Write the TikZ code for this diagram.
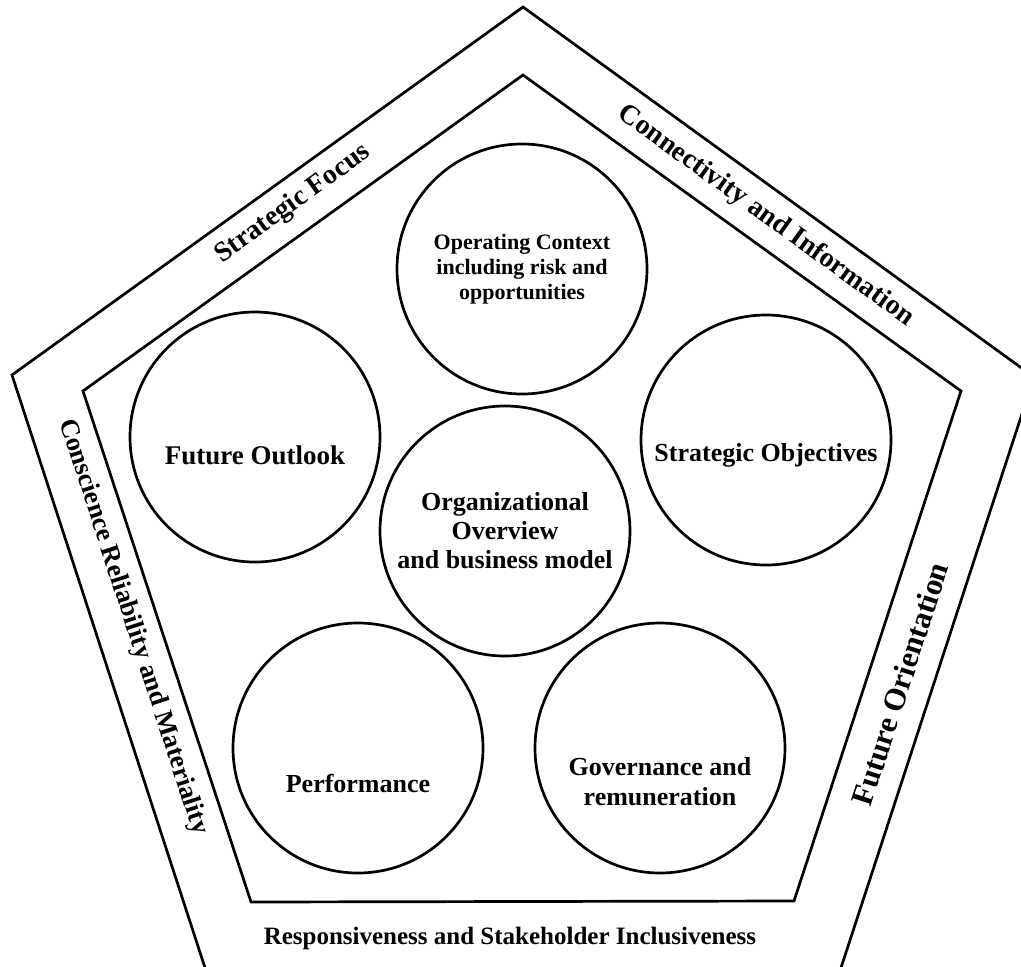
\documentclass[tikz,border=0pt]{standalone}
\usepackage{fontspec}
\setmainfont{Liberation Serif}
\usetikzlibrary{positioning}

\begin{document}
\begin{tikzpicture}[
  x=1pt,y=-1pt,
  frame/.style={draw,line width=2.7pt,line join=miter},
  bubble/.style={draw,circle,line width=2.7pt,minimum size=250pt,inner sep=0pt},
  txt/.style={align=center,inner sep=0pt,font=\fontsize{26}{30}\selectfont\bfseries},
  band/.style={font=\fontsize{28}{30}\selectfont\bfseries,inner sep=0pt}
]
\useasboundingbox (0,0) rectangle (1021,967);
\clip (0,0) rectangle (1021,967);
% outer and inner pentagons
\draw[frame] (523,7) -- (1034,377) -- (837,980) -- (209,980) -- (12,375) -- cycle;
\draw[frame] (523,75) -- (961,391) -- (794,901) -- (251,902) -- (83,391) -- cycle;
% principles on the band
\node[band,rotate=35.8] (focus) at (293,204) {Strategic Focus};
\node[band,rotate=-35.8] (connect) at (766,216) {Connectivity and Information};
\node[band,rotate=72,font=\fontsize{31}{32}\selectfont\bfseries] (future) at (900,684)
  {Future Orientation};
\node[band,rotate=-72,font=\fontsize{26.5}{30}\selectfont\bfseries] (reliab) at (133,627)
  {Conscience Reliability and Materiality};
\node[band,font=\fontsize{25}{30}\selectfont\bfseries] (respons) at (510,938)
  {Responsiveness and Stakeholder Inclusiveness};
% content elements
\node[bubble] (context) at (522,269) {};
\node[bubble] (outlook) at (255,437) {};
\node[bubble] (objectives) at (766,440) {};
\node[bubble] (overview) at (505,531) {};
\node[bubble] (perform) at (358,748) {};
\node[bubble] (govern) at (660,748) {};
% texts inside the circles
\node[txt,font=\fontsize{22}{25}\selectfont\bfseries] (context-t) at (context.center)
  {Operating Context\\including risk and\\opportunities};
\node[txt,font=\fontsize{27}{30}\selectfont\bfseries] (outlook-t) at ([yshift=-18pt]outlook.center)
  {Future Outlook};
\node[txt] (objectives-t) at ([yshift=-15pt]objectives.center) {Strategic Objectives};
\node[txt,font=\fontsize{26}{29}\selectfont\bfseries] (overview-t) at (overview.center)
  {Organizational\\Overview\\and business model};
\node[txt] (perform-t) at ([yshift=-35pt]perform.center) {Performance};
\node[txt] (govern-t) at ([yshift=-34pt]govern.center) {Governance and\\remuneration};
\end{tikzpicture}
\end{document}
